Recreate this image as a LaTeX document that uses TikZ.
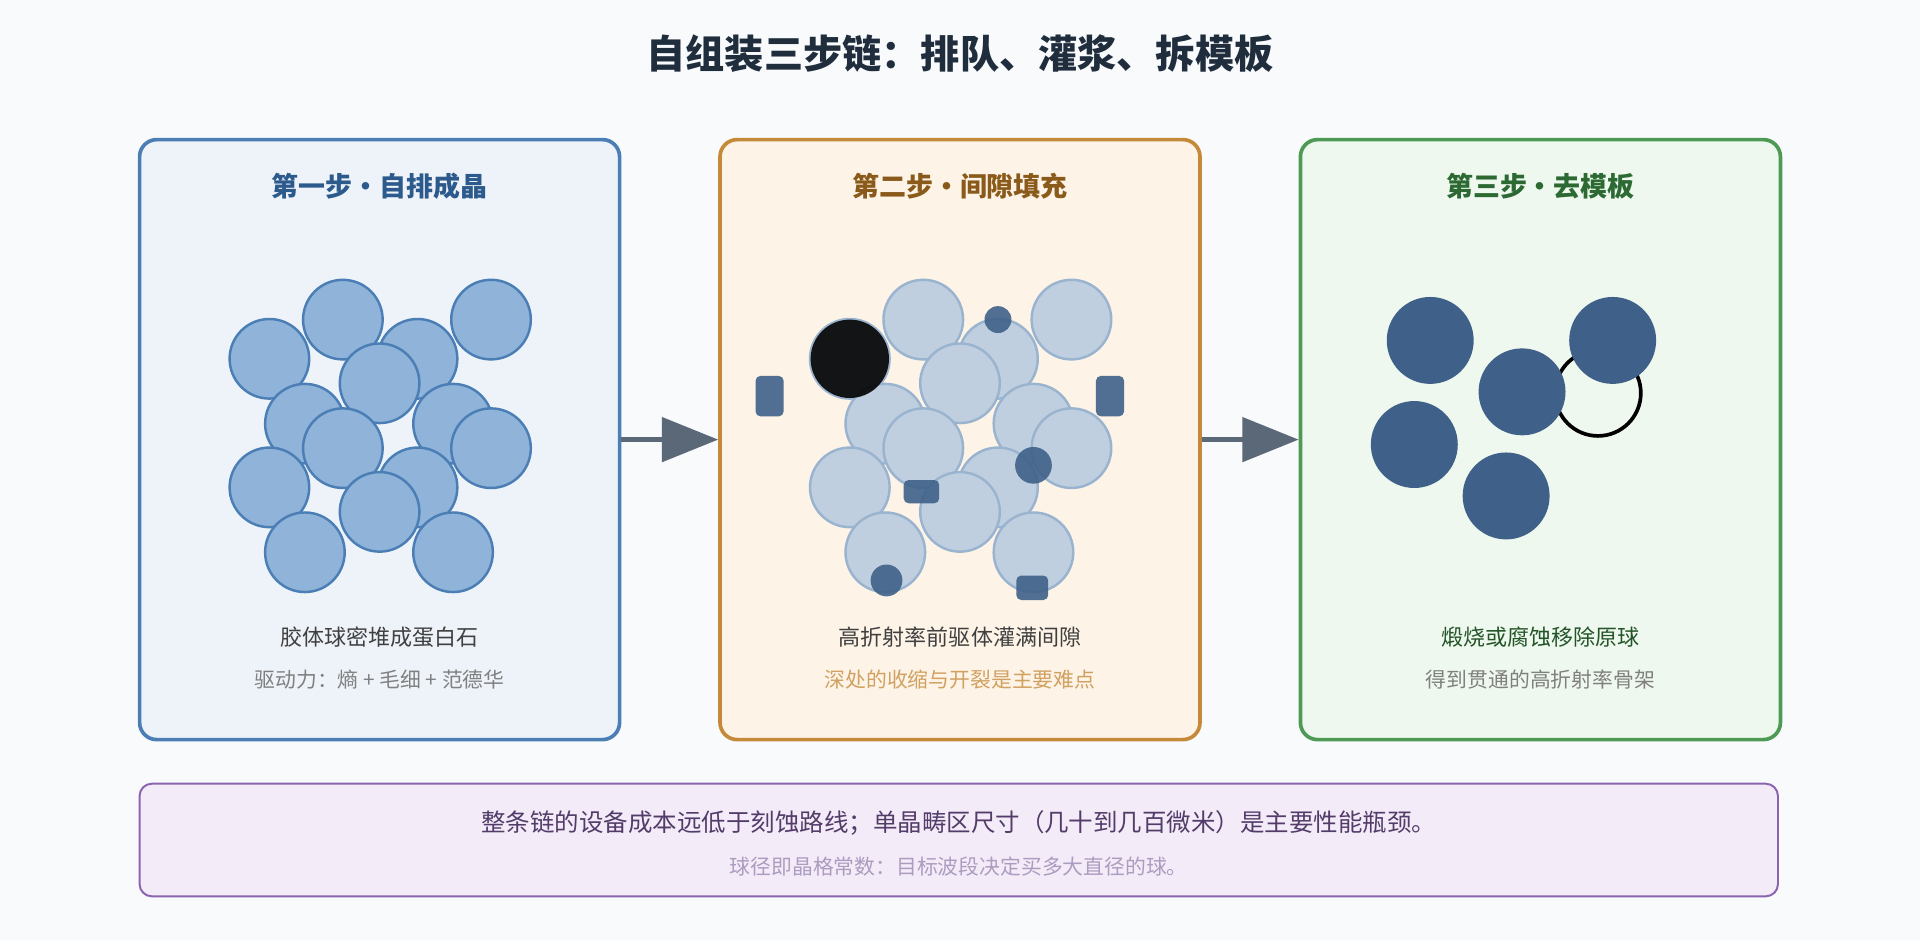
\documentclass[tikz,border=0pt]{standalone}
\usepackage{fontspec}
\setmainfont{Noto Sans CJK SC}
\usetikzlibrary{arrows.meta,positioning}
\definecolor{bgpage}{HTML}{F8FAFC}
\definecolor{ink}{HTML}{1F2D3D}
\definecolor{blueB}{HTML}{4A7EB5}\definecolor{blueF}{HTML}{EEF3FA}\definecolor{blueT}{HTML}{2D5A8C}
\definecolor{orgB}{HTML}{C48A3A}\definecolor{orgF}{HTML}{FDF3E6}\definecolor{orgT}{HTML}{8A5A1A}
\definecolor{grnB}{HTML}{4E9A55}\definecolor{grnF}{HTML}{EEF8EE}\definecolor{grnT}{HTML}{2D6A33}
\definecolor{purB}{HTML}{8A64B0}\definecolor{purF}{HTML}{F3ECF8}
\definecolor{sphere}{HTML}{8FB3D9}
\definecolor{ghost}{HTML}{BFCFE0}\definecolor{ghostB}{HTML}{9AB4CF}
\definecolor{solid}{HTML}{3F6189}
\definecolor{arrowc}{HTML}{5A6878}
\tikzset{
  panel/.style={draw=#1B, fill=#1F, line width=1.5pt, rounded corners=7pt,
                minimum width=196pt, minimum height=245pt},
  head/.style={font=\bfseries\fontsize{11}{13}\selectfont},
  body/.style={font=\fontsize{9}{11}\selectfont, text=black!75},
  note/.style={font=\fontsize{8.5}{10}\selectfont, text=black!50},
  opal/.style={circle, draw=blueB, fill=sphere, line width=1pt, minimum size=32.5pt, inner sep=0pt},
  void/.style={circle, draw=ghostB, fill=ghost, line width=1pt, minimum size=32.5pt, inner sep=0pt},
  ball/.style={circle, fill=solid, minimum size=35.5pt, inner sep=0pt},
  blob/.style={fill=solid, fill opacity=0.9, rounded corners=2pt},
  stepArrow/.style={draw=arrowc, line width=2pt, -{Triangle[length=23pt,width=18pt]}}
}
\begin{document}
\begin{tikzpicture}[x=0.5pt,y=-0.5pt]
\fill[bgpage] (0,0) rectangle (1568,768);
\useasboundingbox (0,0) rectangle (1568,768);

\node (title) at (784,44) [font=\bfseries\fontsize{16}{18}\selectfont, text=ink] {自组装三步链：排队、灌浆、拆模板};

% panels
\node (p1) [panel=blue] at (310,359) {};
\node (p2) [panel=org]  at (784,359) {};
\node (p3) [panel=grn]  at (1258,359) {};

\node (h1) [head, text=blueT] at (310,152) {第一步・自排成晶};
\node (h2) [head, text=orgT]  at (784,152) {第二步・间隙填充};
\node (h3) [head, text=grnT]  at (1258,152) {第三步・去模板};

% step 1: close-packed spheres
\foreach \x/\y [count=\i] in {220/293,280/261,341/293,401/261,310/313,249/346,370/346,
    280/366,401/366,220/398,341/398,310/418,249/451,370/451}
  \node (s\i) [opal] at (\x,\y) {};

% step 2: infiltrated template
\foreach \x/\y [count=\i] in {694/293,754/261,815/293,875/261,784/313,723/346,844/346,
    754/366,875/366,694/398,815/398,784/418,723/451,844/451}
  \node (v\i) [void] at (\x,\y) {};
\fill[solid, fill opacity=0.9] (694,293) circle (32);
\node (g1) [circle, fill=solid, opacity=0.9, minimum size=11pt, inner sep=0pt] at (815,261) {};
\node (g2) [circle, fill=solid, opacity=0.9, minimum size=15pt, inner sep=0pt] at (844,380) {};
\node (g3) [circle, fill=solid, opacity=0.9, minimum size=13pt, inner sep=0pt] at (724,474) {};
\fill[blob] (617,307) rectangle (640,340);
\fill[blob] (895,307) rectangle (918,340);
\fill[blob] (738,392) rectangle (767,411);
\fill[blob] (830,470) rectangle (856,490);

% step 3: inverse skeleton
\draw[solid, line width=1.5pt] (1305,321) circle (35);
\foreach \x/\y [count=\i] in {1168/278,1243/320,1317/278,1155/363,1230/405}
  \node (b\i) [ball] at (\x,\y) {};

% captions
\node (c1) [body] at (310,520) {胶体球密堆成蛋白石};
\node (n1) [note] at (310,555) {驱动力：熵 + 毛细 + 范德华};
\node (c2) [body] at (784,520) {高折射率前驱体灌满间隙};
\node (n2) [note, text=orgB!80] at (784,555) {深处的收缩与开裂是主要难点};
\node (c3) [body, text=grnT!80!black] at (1258,520) {煅烧或腐蚀移除原球};
\node (n3) [note] at (1258,555) {得到贯通的高折射率骨架};

\draw[stepArrow] (p1.east) -- (p2.west);
\draw[stepArrow] (p2.east) -- (p3.west);

% summary
\node (sum) [draw=purB, fill=purF, line width=0.8pt, rounded corners=5pt,
  minimum width=669pt, minimum height=46pt] at (783,686) {};
\node (l1) [font=\fontsize{10}{12}\selectfont, text=purB!60!black] at (783,672)
  {整条链的设备成本远低于刻蚀路线；单晶畴区尺寸（几十到几百微米）是主要性能瓶颈。};
\node (l2) [note, text=purB!60!white!80!gray] at (783,708) {球径即晶格常数：目标波段决定买多大直径的球。};
\end{tikzpicture}
\end{document}
